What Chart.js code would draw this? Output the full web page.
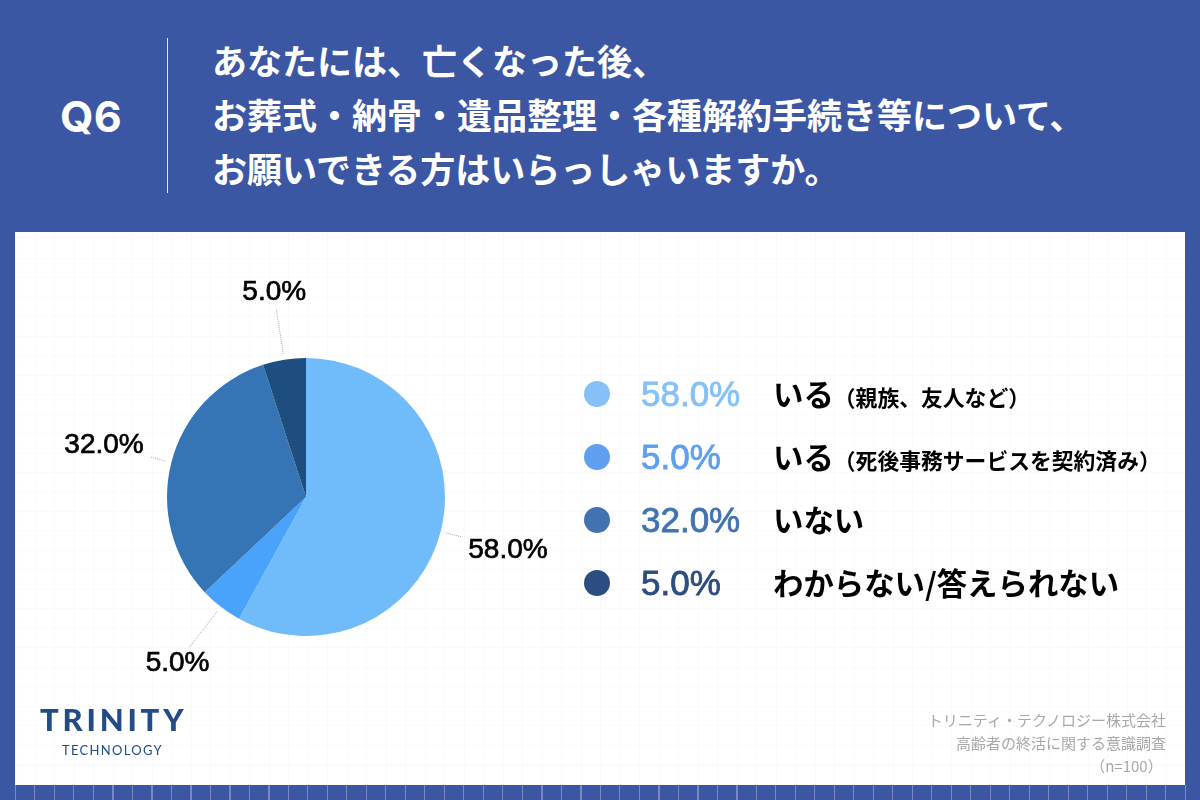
<!DOCTYPE html>
<html lang="ja">
<head>
<meta charset="utf-8">
<title>Q6</title>
<script src="https://cdn.jsdelivr.net/npm/chart.js@4"></script>
<style>
  * { box-sizing: border-box; }
  html, body { margin: 0; padding: 0; }
  body {
    width: 1200px; height: 800px; position: relative; overflow: hidden;
    background-color: #3b57a3;
    font-family: "Noto Sans CJK JP", sans-serif;
  }
  .strip {
    position: absolute; left: 15px; top: 785px; width: 1185px; height: 15px;
    background-image: repeating-linear-gradient(90deg, rgba(255,255,255,.3) 0 1px, transparent 1px 19.5px);
  }
  .panel {
    position: absolute; left: 15px; top: 232px; width: 1170px; height: 553px;
    background-color: #fff;
    background-image:
      repeating-linear-gradient(90deg, #fafafa 0 1px, transparent 1px 19.5px),
      repeating-linear-gradient(0deg, #fafafa 0 1px, transparent 1px 19.5px);
  }
  #chart { position: absolute; left: 0; top: 0; }
  .qno {
    position: absolute; left: 60px; top: 92px;
    font: bold 43px/48px Inter, sans-serif; color: #fff; letter-spacing: .3px;
  }
  .divider { position: absolute; left: 167px; top: 38px; width: 1px; height: 155px; background: #e8ecf5; }
  .title {
    position: absolute; left: 212px; top: 33px; white-space: nowrap;
    font-size: 35px; line-height: 54px; font-weight: 700; color: #fff;
  }
  .row { position: absolute; left: 0; width: 1200px; height: 50px; }
  .dot { position: absolute; left: 584px; top: 12px; width: 26px; height: 26px; border-radius: 50%; }
  .pct { position: absolute; left: 641px; top: 0; font: 35px/50px "Liberation Sans", sans-serif; -webkit-text-stroke: .8px; }
  .name { position: absolute; left: 773px; top: -1px; font-size: 30.4px; line-height: 50px; font-weight: 700; color: #000; white-space: nowrap; }
  .name small { font-size: 21.8px; margin-left: 0; }
  .logo { position: absolute; color: #214c85; white-space: nowrap; font-family: Lato, sans-serif; }
  .credit {
    position: absolute; right: 34px; top: 708px; text-align: right;
    font-size: 15px; line-height: 23px; color: #a8a8a8; white-space: nowrap;
  }
</style>
</head>
<body>
<div class="panel"></div>
<div class="strip"></div>
<div class="qno">Q6</div>
<div class="divider"></div>
<div class="title" id="title"></div>
<canvas id="chart" width="1200" height="800"></canvas>
<div id="legend"></div>
<div class="logo" style="left:40px;top:699px;font-size:31px;line-height:40px;font-weight:900;letter-spacing:3.8px">TRINITY</div>
<div class="logo" style="left:62px;top:741px;font-size:13px;line-height:18px;font-weight:400;letter-spacing:1.3px">TECHNOLOGY</div>
<div class="credit">トリニティ・テクノロジー株式会社<br>高齢者の終活に関する意識調査<br>（n=100）&nbsp;</div>

<script>
const titleLines = [
  "あなたには、亡くなった後、",
  "お葬式・納骨・遺品整理・各種解約手続き等について、",
  "お願いできる方はいらっしゃいますか。",
];
const categories = ["いる", "いる", "いない", "わからない/答えられない"];
const categoryNotes = ["（親族、友人など）", "（死後事務サービスを契約済み）", "", ""];
const values = [58.0, 5.0, 32.0, 5.0];
const sliceColors = ["#70bbfa", "#4aa3fb", "#3574b5", "#1e4d80"];
const legendColors = ["#85c0f6", "#5e9fef", "#4273ae", "#2b4d7f"];

// where the outside labels sit: line length from the centre, then shift from the line end
const leaderEnds = [160, 190, 160, 190];
const labelShift = [[47, 13], [-12, 16], [-47, -12], [-2, -17]];

document.getElementById("title").innerHTML = titleLines.join("<br>");

const legendEl = document.getElementById("legend");
categories.forEach((name, i) => {
  const row = document.createElement("div");
  row.className = "row";
  row.style.top = 369 + i * 63 + "px";
  row.innerHTML =
    `<div class="dot" style="background:${legendColors[i]}"></div>` +
    `<div class="pct" style="color:${legendColors[i]}">${values[i].toFixed(1)}%</div>` +
    `<div class="name">${name}<small>${categoryNotes[i]}</small></div>`;
  legendEl.appendChild(row);
});

const outsideLabels = {
  id: "outsideLabels",
  afterDatasetsDraw(chart) {
    const ctx = chart.ctx;
    chart.getDatasetMeta(0).data.forEach((arc, i) => {
      const { x, y, startAngle, endAngle, outerRadius } = arc.getProps(
        ["x", "y", "startAngle", "endAngle", "outerRadius"], true
      );
      const mid = (startAngle + endAngle) / 2;
      const x1 = x + Math.cos(mid) * (outerRadius + 6);
      const y1 = y + Math.sin(mid) * (outerRadius + 6);
      const x2 = x + Math.cos(mid) * leaderEnds[i];
      const y2 = y + Math.sin(mid) * leaderEnds[i];
      ctx.save();
      ctx.strokeStyle = "#a8a8a8";
      ctx.lineWidth = 1;
      ctx.setLineDash([1, 1]);
      ctx.beginPath();
      ctx.moveTo(x1, y1);
      ctx.lineTo(x2, y2);
      ctx.stroke();
      ctx.setLineDash([]);
      ctx.fillStyle = "#000";
      ctx.strokeStyle = "#000";
      ctx.lineWidth = 0.7;
      ctx.font = '28px "Liberation Sans", sans-serif';
      ctx.textAlign = "center";
      ctx.textBaseline = "middle";
      const text = values[i].toFixed(1) + "%";
      ctx.fillText(text, x2 + labelShift[i][0], y2 + labelShift[i][1]);
      ctx.strokeText(text, x2 + labelShift[i][0], y2 + labelShift[i][1]);
      ctx.restore();
    });
  },
};

new Chart(document.getElementById("chart").getContext("2d"), {
  type: "pie",
  data: {
    labels: categories,
    datasets: [{ data: values, backgroundColor: sliceColors, borderWidth: 0 }],
  },
  options: {
    responsive: false,
    animation: false,
    layout: { padding: { left: 167, right: 755, top: 358, bottom: 164 } },
    plugins: { legend: { display: false }, tooltip: { enabled: false } },
  },
  plugins: [outsideLabels],
});
</script>
</body>
</html>
